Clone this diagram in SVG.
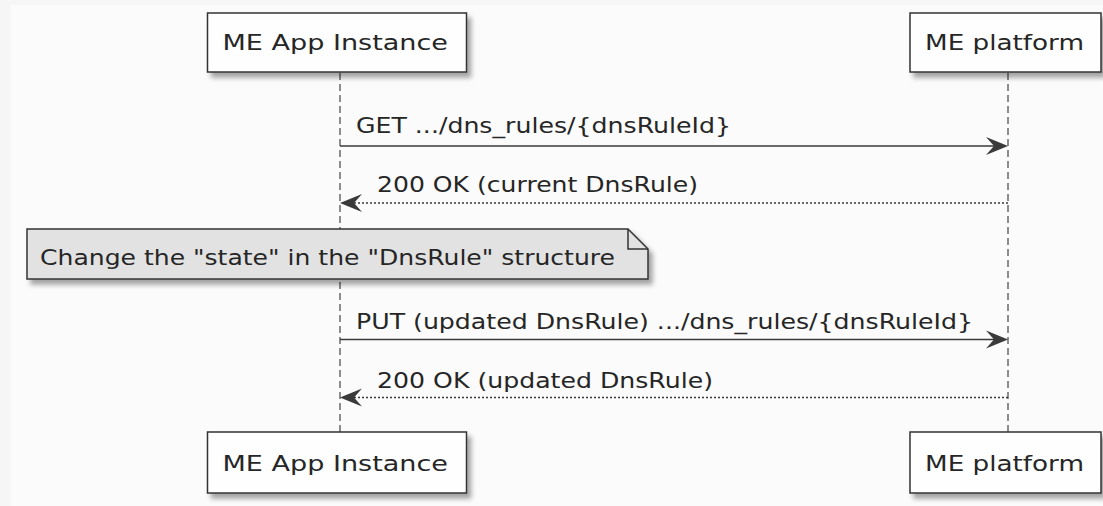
<svg xmlns="http://www.w3.org/2000/svg" width="1103" height="506" viewBox="0 0 1103 506">
  <style>
    .box { fill: #FEFEFE; stroke: #333333; stroke-width: 1.5; }
    .note { fill: #E2E2E2; stroke: #333333; stroke-width: 1.5; }
    .lbl { font-family: "DejaVu Sans", "Liberation Sans", sans-serif; font-size: 21px; fill: #262626; }
    .life { stroke: #444444; stroke-width: 1.2; stroke-dasharray: 7,4; fill: none; }
    .msg { stroke: #3A3A3A; stroke-width: 1.6; fill: none; }
    .ret { stroke: #3A3A3A; stroke-width: 1.4; stroke-dasharray: 2,2; fill: none; }
    .head { fill: #3A3A3A; }
  </style>
  <defs>
    <filter id="shadow" x="-10%" y="-20%" width="130%" height="160%">
      <feDropShadow dx="4" dy="5" stdDeviation="2.5" flood-color="#000000" flood-opacity="0.35"/>
    </filter>
  </defs>

  <!-- canvas -->
  <rect x="0" y="0" width="1103" height="506" fill="#F6F6F6"/>
  <rect x="11" y="5" width="1092" height="501" fill="#FBFBFB"/>

  <!-- lifelines -->
  <g id="lifelines">
    <line class="life" x1="340" y1="73" x2="340" y2="432"/>
    <line class="life" x1="1008" y1="73" x2="1008" y2="432"/>
  </g>

  <!-- participants, top -->
  <g id="app-top">
    <rect class="box" x="207.5" y="13" width="259" height="59" filter="url(#shadow)"/>
    <text class="lbl" x="222.5" y="49.5" textLength="225.5" lengthAdjust="spacingAndGlyphs">ME App Instance</text>
  </g>
  <g id="platform-top">
    <rect class="box" x="910" y="13" width="191" height="59" filter="url(#shadow)"/>
    <text class="lbl" x="925" y="49.5" textLength="159" lengthAdjust="spacingAndGlyphs">ME platform</text>
  </g>

  <!-- participants, bottom -->
  <g id="app-bottom">
    <rect class="box" x="207.5" y="432" width="259" height="61" filter="url(#shadow)"/>
    <text class="lbl" x="222.5" y="470.5" textLength="225.5" lengthAdjust="spacingAndGlyphs">ME App Instance</text>
  </g>
  <g id="platform-bottom">
    <rect class="box" x="910" y="432" width="191" height="61" filter="url(#shadow)"/>
    <text class="lbl" x="925" y="470.5" textLength="159" lengthAdjust="spacingAndGlyphs">ME platform</text>
  </g>

  <!-- note -->
  <g id="note">
    <path class="note" d="M27,229 L628,229 L648,249 L648,279 L27,279 Z" filter="url(#shadow)"/>
    <path d="M628,229 L628,249 L648,249" fill="none" stroke="#333333" stroke-width="1.5"/>
    <text class="lbl" x="40" y="265" textLength="575" lengthAdjust="spacingAndGlyphs">Change the "state" in the "DnsRule" structure</text>
  </g>

  <!-- messages -->
  <g id="connectors">
    <line class="msg" x1="340" y1="146" x2="998" y2="146"/>
    <polygon class="head" points="1008,146 986,137 994,146 986,155"/>
    <text class="lbl" x="356" y="133" textLength="375" lengthAdjust="spacingAndGlyphs">GET .../dns_rules/{dnsRuleId}</text>

    <line class="ret" x1="350" y1="203" x2="1008" y2="203"/>
    <polygon class="head" points="340,203 362,194 354,203 362,212"/>
    <text class="lbl" x="377" y="191.5" textLength="321" lengthAdjust="spacingAndGlyphs">200 OK (current DnsRule)</text>

    <line class="msg" x1="340" y1="339.5" x2="998" y2="339.5"/>
    <polygon class="head" points="1008,339.5 986,330.5 994,339.5 986,348.5"/>
    <text class="lbl" x="356" y="329" textLength="617" lengthAdjust="spacingAndGlyphs">PUT (updated DnsRule) .../dns_rules/{dnsRuleId}</text>

    <line class="ret" x1="350" y1="397.5" x2="1008" y2="397.5"/>
    <polygon class="head" points="340,397.5 362,388.5 354,397.5 362,406.5"/>
    <text class="lbl" x="377" y="388" textLength="336" lengthAdjust="spacingAndGlyphs">200 OK (updated DnsRule)</text>
  </g>
</svg>
